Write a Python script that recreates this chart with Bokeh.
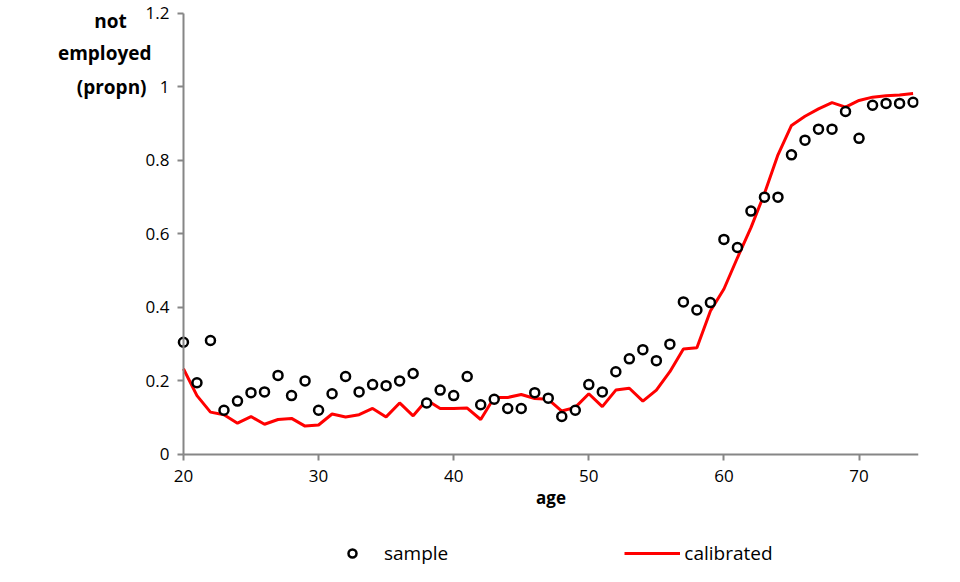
from bokeh.plotting import figure
from bokeh.models import Range1d, Legend, LegendItem, LinearAxis, FixedTicker
from bokeh.embed import file_html
from bokeh.resources import INLINE

ages = list(range(20, 75))
sample = [0.305, 0.195, 0.31, 0.12, 0.145, 0.168, 0.17, 0.215, 0.16, 0.2,
          0.12, 0.165, 0.212, 0.17, 0.19, 0.187, 0.2, 0.22, 0.14, 0.175,
          0.16, 0.212, 0.135, 0.15, 0.125, 0.125, 0.168, 0.153, 0.103, 0.12,
          0.19, 0.17, 0.225, 0.26, 0.285, 0.255, 0.3, 0.415, 0.393, 0.413,
          0.585, 0.563, 0.662, 0.7, 0.7, 0.815, 0.855, 0.885, 0.885, 0.933,
          0.86, 0.95, 0.955, 0.955, 0.958]
calibrated = [0.233, 0.16, 0.115, 0.108, 0.085, 0.103, 0.082, 0.095, 0.098, 0.077,
              0.08, 0.11, 0.102, 0.108, 0.125, 0.102, 0.14, 0.105, 0.148, 0.125,
              0.125, 0.126, 0.095, 0.155, 0.155, 0.163, 0.152, 0.15, 0.118, 0.128,
              0.165, 0.13, 0.175, 0.18, 0.145, 0.175, 0.225, 0.287, 0.29, 0.39,
              0.45, 0.535, 0.617, 0.71, 0.815, 0.895, 0.92, 0.94, 0.957, 0.945,
              0.963, 0.972, 0.976, 0.978, 0.982]
x_ticks = [20, 30, 40, 50, 60, 70]
y_ticks = [0, 0.2, 0.4, 0.6, 0.8, 1.0, 1.2]
y_labels = {0: "0", 0.2: "0.2", 0.4: "0.4", 0.6: "0.6", 0.8: "0.8", 1.0: "1", 1.2: "1.2"}
# y title, drawn as labels of a bare left axis
title_pos = [1.178, 1.091, 0.999]
title_text = {1.178: "not     ", 1.091: "employed", 0.999: "(propn) "}

font = "Open Sans"
grey = "#868686"

p = figure(width=944, height=566, output_backend="svg", toolbar_location=None,
           x_range=Range1d(16.6, 74.4), y_range=Range1d(-0.305, 1.235),
           min_border_left=137, min_border_right=26, min_border_top=0, min_border_bottom=0)
p.outline_line_color = None
p.border_fill_color = "white"
p.xgrid.visible = False
p.ygrid.visible = False

for ax in (p.xaxis, p.yaxis):
    ax.axis_line_color = grey
    ax.axis_line_width = 2
    ax.major_tick_line_color = grey
    ax.major_tick_line_width = 2
    ax.minor_tick_line_color = None
    ax.major_tick_in = 0
    ax.major_tick_out = 6
    ax.major_label_text_font = font
    ax.major_label_text_font_size = "17px"
    ax.major_label_text_color = "black"

p.xaxis.ticker = FixedTicker(ticks=x_ticks)
p.xaxis.fixed_location = 0
p.xaxis.bounds = (20, 74.4)
p.yaxis.ticker = FixedTicker(ticks=y_ticks)
p.yaxis.fixed_location = 20
p.yaxis.bounds = (0, 1.2)
p.yaxis.major_label_overrides = y_labels
p.yaxis.major_label_standoff = 8
p.xaxis.major_label_standoff = 10
p.xaxis.axis_label = "age"
p.xaxis.axis_label_text_font = font
p.xaxis.axis_label_text_font_style = "bold"
p.xaxis.axis_label_text_font_size = "17px"
p.xaxis.axis_label_text_color = "black"
p.xaxis.axis_label_standoff = 0

ttl = LinearAxis(ticker=FixedTicker(ticks=title_pos), major_label_overrides=title_text,
                 axis_line_color=None, major_tick_line_color=None, minor_tick_line_color=None,
                 major_label_text_font=font, major_label_text_font_style="bold",
                 major_label_text_font_size="19px", major_label_text_color="black",
                 major_label_standoff=-20)
p.add_layout(ttl, "left")

line = p.line(ages, calibrated, line_color="red", line_width=3)
pts = p.scatter(ages, sample, size=9, fill_color="white", line_color="black", line_width=2.5)

legend = Legend(items=[LegendItem(label="sample", renderers=[pts]),
                       LegendItem(label="calibrated", renderers=[line])],
                orientation="horizontal", location=(187, 0), spacing=176,
                label_text_font=font, label_text_font_size="19px", label_text_color="black",
                glyph_width=56, label_standoff=4, border_line_color=None,
                background_fill_alpha=0, margin=0, padding=8)
p.add_layout(legend, "center")

open("out.html", "w").write(file_html(p, INLINE))
